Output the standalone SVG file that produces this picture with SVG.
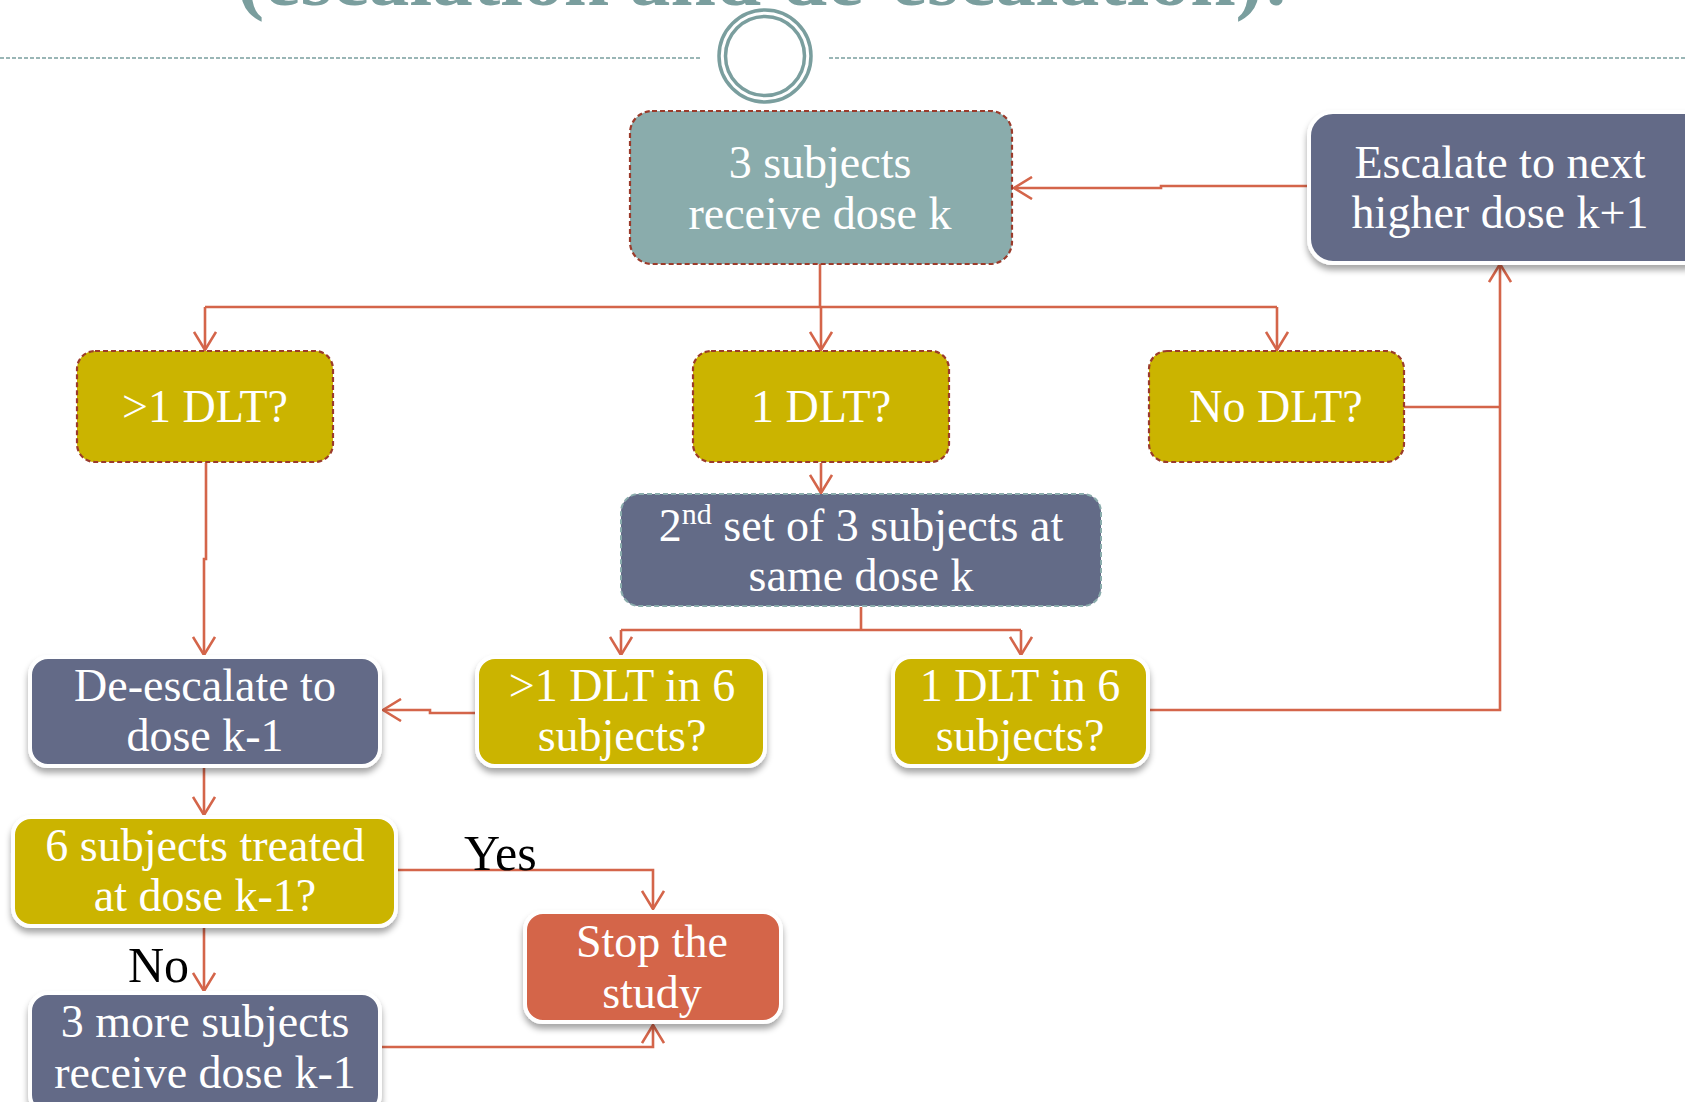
<svg xmlns="http://www.w3.org/2000/svg" width="1685" height="1102" viewBox="0 0 1685 1102">
<defs>
<style>
.t{font-family:"Liberation Serif","DejaVu Serif",serif;font-size:46px;fill:#ffffff;text-anchor:middle}
.lbl{font-family:"Liberation Serif","DejaVu Serif",serif;font-size:50px;fill:#000000}
.c{fill:none;stroke:#D4654A;stroke-width:2.6}
.dash{stroke:#9B3B2B;stroke-width:2.2;stroke-dasharray:5 3}
.wb{stroke:#ffffff;stroke-width:4;filter:url(#sh)}
.teal{fill:#8AACAC}
.navy{fill:#636B87}
.yel{fill:#CBB400}
.red{fill:#D4654A}
</style>
<filter id="sh" x="-10%" y="-10%" width="120%" height="130%">
<feDropShadow dx="0" dy="5" stdDeviation="3" flood-color="#000" flood-opacity="0.35"/>
</filter>
<marker id="ar" viewBox="0 0 22 24" refX="20" refY="12" markerWidth="22" markerHeight="24" markerUnits="userSpaceOnUse" orient="auto">
<path d="M2,1 L20,12 L2,23" fill="none" stroke="#D4654A" stroke-width="2.6"/>
</marker>
</defs>
<rect width="1685" height="1102" fill="#ffffff"/>
<g id="header">
<text x="237" y="5" font-family="Liberation Serif, serif" font-weight="bold" font-size="78" fill="#7A9E9E" textLength="1053" lengthAdjust="spacingAndGlyphs">(escalation and de-escalation):</text>
<line x1="0" y1="58" x2="700" y2="58" stroke="#7A9E9E" stroke-width="1.5" stroke-dasharray="4 2"/>
<line x1="829" y1="58" x2="1685" y2="58" stroke="#7A9E9E" stroke-width="1.5" stroke-dasharray="4 2"/>
<circle cx="765" cy="56" r="46" fill="#ffffff" stroke="#7A9E9E" stroke-width="3.5"/>
<circle cx="765" cy="56" r="39.5" fill="none" stroke="#7A9E9E" stroke-width="3.5"/>
</g>
<g id="connectors">
<path class="c" d="M820,263 V307"/>
<path class="c" d="M205,307 H1277"/>
<path class="c" d="M205,307 V350" marker-end="url(#ar)"/>
<path class="c" d="M821,307 V350" marker-end="url(#ar)"/>
<path class="c" d="M1277,307 V350" marker-end="url(#ar)"/>
<path class="c" d="M1309,186 H1161 V188 H1014" marker-end="url(#ar)"/>
<path class="c" d="M1404,407 H1500"/>
<path class="c" d="M1149,710 H1500 V264" marker-end="url(#ar)"/>
<path class="c" d="M206,463 V559 H204 V655" marker-end="url(#ar)"/>
<path class="c" d="M821,463 V493" marker-end="url(#ar)"/>
<path class="c" d="M861,607 V630"/>
<path class="c" d="M621,630 H1021"/>
<path class="c" d="M621,630 V655" marker-end="url(#ar)"/>
<path class="c" d="M1021,630 V655" marker-end="url(#ar)"/>
<path class="c" d="M476,713 H430 V710 H383" marker-end="url(#ar)"/>
<path class="c" d="M204,767 V815" marker-end="url(#ar)"/>
<path class="c" d="M396,870 H653 V909" marker-end="url(#ar)"/>
<path class="c" d="M204,927 V991" marker-end="url(#ar)"/>
<path class="c" d="M381,1047 H653 V1025" marker-end="url(#ar)"/>
</g>
<g id="n1">
<rect class="teal dash" x="630" y="111" width="382" height="153" rx="22"/>
<text class="t" x="820" y="178">3 subjects</text>
<text class="t" x="820" y="229">receive dose k</text>
</g>
<g id="n_escalate">
<rect class="navy wb" x="1309" y="112" width="400" height="151" rx="24"/>
<text class="t" x="1500" y="178">Escalate to next</text>
<text class="t" x="1500" y="228">higher dose k+1</text>
</g>
<g id="n_gt1">
<rect class="yel dash" x="77" y="351" width="256" height="111" rx="18"/>
<text class="t" x="205" y="422">&gt;1 DLT?</text>
</g>
<g id="n_1dlt">
<rect class="yel dash" x="693" y="351" width="256" height="111" rx="18"/>
<text class="t" x="821" y="422">1 DLT?</text>
</g>
<g id="n_nodlt">
<rect class="yel dash" x="1149" y="351" width="255" height="111" rx="18"/>
<text class="t" x="1276" y="422">No DLT?</text>
</g>
<g id="n_2nd">
<rect class="navy" x="621" y="494" width="480" height="112" rx="18" stroke="#8AACAC" stroke-width="2" stroke-dasharray="5 3"/>
<text class="t" x="861" y="541">2<tspan font-size="30" dy="-17">nd</tspan><tspan dy="17"> set of 3 subjects at</tspan></text>
<text class="t" x="861" y="591">same dose k</text>
</g>
<g id="n_deesc">
<rect class="navy wb" x="30" y="657" width="350" height="109" rx="18"/>
<text class="t" x="205" y="701">De-escalate to</text>
<text class="t" x="205" y="751">dose k-1</text>
</g>
<g id="n_gt1in6">
<rect class="yel wb" x="477" y="657" width="288" height="109" rx="18"/>
<text class="t" x="622" y="701">&gt;1 DLT in 6</text>
<text class="t" x="622" y="751">subjects?</text>
</g>
<g id="n_1in6">
<rect class="yel wb" x="893" y="657" width="255" height="109" rx="18"/>
<text class="t" x="1020" y="701">1 DLT in 6</text>
<text class="t" x="1020" y="751">subjects?</text>
</g>
<g id="n_6treated">
<rect class="yel wb" x="13" y="817" width="383" height="109" rx="18"/>
<text class="t" x="205" y="861">6 subjects treated</text>
<text class="t" x="205" y="911">at dose k-1?</text>
</g>
<g id="n_stop">
<rect class="red wb" x="525" y="912" width="256" height="110" rx="18"/>
<text class="t" x="652" y="957">Stop the</text>
<text class="t" x="652" y="1008">study</text>
</g>
<g id="n_3more">
<rect class="navy wb" x="30" y="993" width="350" height="120" rx="18"/>
<text class="t" x="205" y="1037">3 more subjects</text>
<text class="t" x="205" y="1088">receive dose k-1</text>
</g>
<g id="labels">
<text class="lbl" x="464" y="870">Yes</text>
<text class="lbl" x="128" y="982">No</text>
</g>
</svg>
